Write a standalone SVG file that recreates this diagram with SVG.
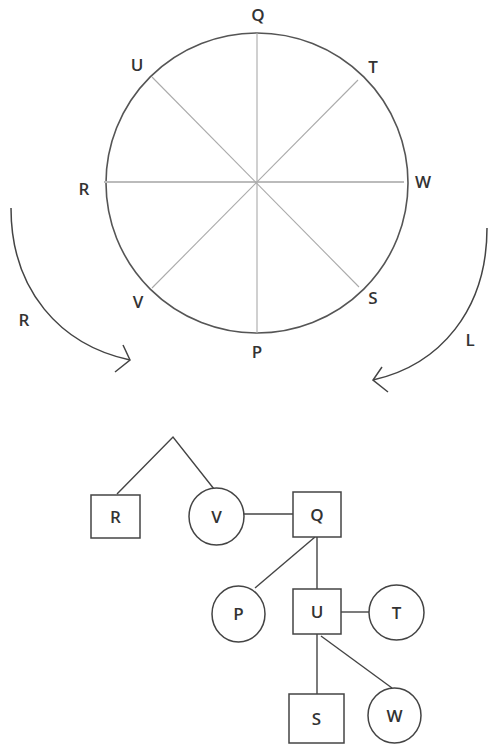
<svg xmlns="http://www.w3.org/2000/svg" width="488" height="749" viewBox="0 0 488 749">
<style>
.lbl{font-family:"Open Sans","Liberation Sans",sans-serif;font-size:17px;font-weight:600;fill:#333;text-anchor:middle}
.rim{fill:none;stroke:#555;stroke-width:1.6}
.spoke{fill:none;stroke:#aaa;stroke-width:1.1}
.arc{fill:none;stroke:#444;stroke-width:1.5}
.node{fill:#fff;stroke:#444;stroke-width:1.5}
.edge{fill:none;stroke:#444;stroke-width:1.4}
</style>
<rect width="488" height="749" fill="#fff"/>
<g id="wheel">
<ellipse class="rim" cx="257" cy="183" rx="151" ry="150"/>
<line class="spoke" x1="257" y1="33" x2="257" y2="333"/>
<line class="spoke" x1="104" y1="182" x2="404" y2="182" style="stroke:#bbb;stroke-width:2"/>
<line class="spoke" x1="152" y1="77" x2="359" y2="287"/>
<line class="spoke" x1="358" y1="80" x2="152" y2="288"/>
<text class="lbl" x="258" y="21">Q</text>
<text class="lbl" x="137" y="71">U</text>
<text class="lbl" x="373" y="73">T</text>
<text class="lbl" x="84" y="195">R</text>
<text class="lbl" x="423" y="188">W</text>
<text class="lbl" x="138" y="308">V</text>
<text class="lbl" x="373" y="304">S</text>
<text class="lbl" x="257" y="358">P</text>
</g>
<g id="rotations">
<path class="arc" d="M11,208 C11,290 60,345 130,360"/>
<polyline class="arc" points="123,345 130,360 115,372"/>
<path class="arc" d="M487,228 C487,310 440,365 373,380"/>
<polyline class="arc" points="382,367 373,380 388,392"/>
<text class="lbl" x="24" y="326">R</text>
<text class="lbl" x="470" y="346">L</text>
</g>
<g id="connectors">
<polyline class="edge" points="117,494 173,437 214,489"/>
<line class="edge" x1="244" y1="514" x2="293" y2="514"/>
<line class="edge" x1="317" y1="537" x2="317" y2="589"/>
<line class="edge" x1="315" y1="537" x2="255" y2="588"/>
<line class="edge" x1="341" y1="612" x2="369" y2="612"/>
<line class="edge" x1="317" y1="634" x2="317" y2="694"/>
<line class="edge" x1="321" y1="636" x2="392" y2="688"/>
</g>
<g id="node-R"><rect class="node" x="91" y="495" width="49" height="43"/><text class="lbl" x="115.5" y="522.5">R</text></g>
<g id="node-V"><ellipse class="node" cx="216.5" cy="516.5" rx="27.5" ry="28.5"/><text class="lbl" x="216.5" y="522.5">V</text></g>
<g id="node-Q"><rect class="node" x="293" y="492" width="48" height="45"/><text class="lbl" x="317" y="520.5">Q</text></g>
<g id="node-P"><ellipse class="node" cx="238.5" cy="614" rx="26.5" ry="28"/><text class="lbl" x="238.5" y="620">P</text></g>
<g id="node-U"><rect class="node" x="293" y="589" width="48" height="45"/><text class="lbl" x="317" y="617.5">U</text></g>
<g id="node-T"><ellipse class="node" cx="396.5" cy="612.5" rx="27.5" ry="27.5"/><text class="lbl" x="396.5" y="618.5">T</text></g>
<g id="node-S"><rect class="node" x="289" y="694" width="55" height="49"/><text class="lbl" x="316.5" y="724.5">S</text></g>
<g id="node-W"><ellipse class="node" cx="394.5" cy="715.5" rx="26.5" ry="27.5"/><text class="lbl" x="394.5" y="721.5">W</text></g>
</svg>
